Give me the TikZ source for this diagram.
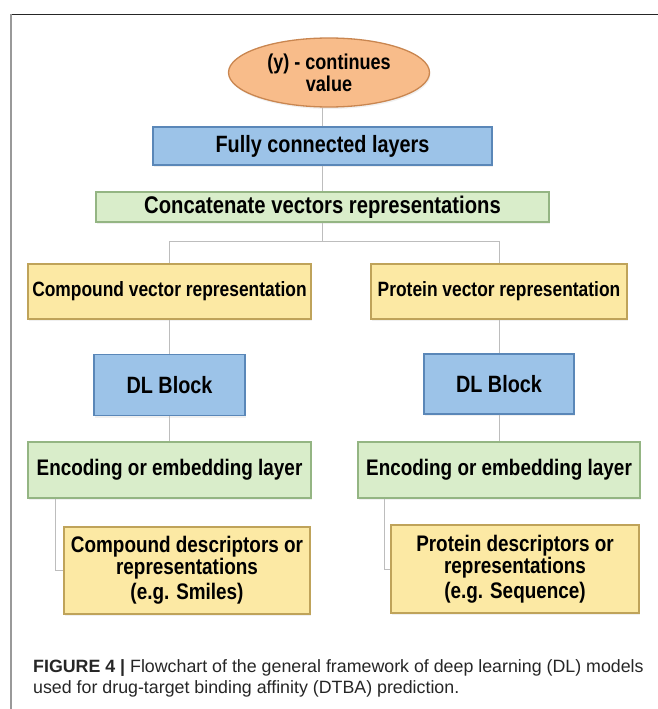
\documentclass[tikz,border=0pt]{standalone}
\usepackage{fontspec}
\setmainfont{Liberation Sans}
\newfontfamily\boxfont{Liberation Sans}[FakeStretch=0.84]
\usetikzlibrary{shapes.geometric,shadows}

\definecolor{bluefill}{HTML}{9CC3E8}
\definecolor{blueedge}{HTML}{5A87B8}
\definecolor{greenfill}{HTML}{D9EDCA}
\definecolor{greenedge}{HTML}{94B583}
\definecolor{yellowfill}{HTML}{FCE9A4}
\definecolor{yellowedge}{HTML}{BFA35A}
\definecolor{orangefill}{HTML}{F8BC8A}
\definecolor{orangeedge}{HTML}{C98650}
\definecolor{linkgray}{HTML}{BDBDBD}
\definecolor{captiongray}{HTML}{262626}

\begin{document}
\begin{tikzpicture}[x=1pt, y=-1pt,
  box/.style={rectangle, inner sep=0pt, line width=1.3pt, align=center,
    font=\boxfont\bfseries\fontsize{22.5}{24}\selectfont,
    drop shadow={shadow xshift=1pt, shadow yshift=-2pt, opacity=0.12}},
  bluebox/.style={box, fill=bluefill, draw=blueedge},
  greenbox/.style={box, fill=greenfill, draw=greenedge},
  yellowbox/.style={box, fill=yellowfill, draw=yellowedge},
  link/.style={draw=linkgray, line width=0.9pt}]

  \useasboundingbox (0,0) rectangle (658,709);

  \newcommand\BL{169.5}
  \newcommand\BR{499}

  \draw[black!85, line width=1pt] (10.5,14.5) -- (658,14.5);
  \draw[black!40, line width=1.6pt] (11,14) -- (11,709);

  \node[ellipse, inner sep=0pt, minimum width=201pt, minimum height=69pt,
    fill=orangefill, draw=orangeedge, line width=1.3pt, align=center,
    font=\boxfont\bfseries\fontsize{21.5}{22}\selectfont,
    drop shadow={shadow xshift=1pt, shadow yshift=-2pt, opacity=0.12}]
    (out) at (329,72.5) {(y) - continues\\value};

  \node[bluebox, minimum width=339pt, minimum height=38pt,
    font=\boxfont\bfseries\fontsize{23.6}{24}\selectfont]
    (fc) at (322.5,146) {Fully connected layers};
  \node[greenbox, minimum width=453pt, minimum height=30pt,
    font=\boxfont\bfseries\fontsize{24.1}{24}\selectfont]
    (cat) at (322.5,207) {Concatenate vectors representations};
  \coordinate (split) at (322.5,241);

  \node[yellowbox, minimum width=283pt, minimum height=55pt,
    font=\boxfont\bfseries\fontsize{20.7}{24}\selectfont]
    (cvec) at (\BL,291.5) {Compound vector representation};
  \node[yellowbox, minimum width=256pt, minimum height=55pt,
    font=\boxfont\bfseries\fontsize{20.7}{24}\selectfont]
    (pvec) at (\BR,291.5) {Protein vector representation};

  \node[bluebox, minimum width=151pt, minimum height=61pt,
    font=\boxfont\bfseries\fontsize{23.6}{24}\selectfont]
    (cdl) at (\BL,385) {DL Block};
  \node[bluebox, minimum width=150pt, minimum height=60pt,
    font=\boxfont\bfseries\fontsize{23.6}{24}\selectfont]
    (pdl) at (\BR,384) {DL Block};

  \node[greenbox, minimum width=283pt, minimum height=56pt]
    (cenc) at (\BL,470) {Encoding or embedding layer};
  \node[greenbox, minimum width=282pt, minimum height=56pt]
    (penc) at (\BR,470) {Encoding or embedding layer};

  \node[yellowbox, minimum width=246pt, minimum height=87pt,
    font=\boxfont\bfseries\fontsize{22.5}{20.5}\selectfont]
    (cdesc) at (187,570.5) {Compound descriptors or\\representations\\[3pt](e.g. Smiles)};
  \node[yellowbox, minimum width=248pt, minimum height=88pt,
    font=\boxfont\bfseries\fontsize{22.5}{20.5}\selectfont]
    (pdesc) at (515,569) {Protein descriptors or\\representations\\[3pt](e.g. Sequence)};

  \draw[link] (fc.north) -- (fc.north |- out.south);
  \draw[link] (fc) -- (cat);
  \draw[link] (cat) -- (split);
  \draw[link] (split) -| (cvec.north);
  \draw[link] (split) -| (pvec.north);
  \draw[link] (cvec) -- (cdl);
  \draw[link] (cdl) -- (cenc);
  \draw[link] (pvec) -- (pdl);
  \draw[link] (pdl) -- (penc);
  \draw[link] ([xshift=28pt]cenc.south west) |- (cdesc.west);
  \draw[link] ([xshift=27pt]penc.south west) |- (pdesc.west);

  \node[anchor=north west, inner sep=0pt, align=left, text=captiongray,
    font=\fontsize{17.8}{21}\selectfont]
    (caption) at (33,659) {\textbf{FIGURE 4 |} Flowchart of the general framework of deep learning (DL) models\\used for drug-target binding affinity (DTBA) prediction.};
\end{tikzpicture}
\end{document}
